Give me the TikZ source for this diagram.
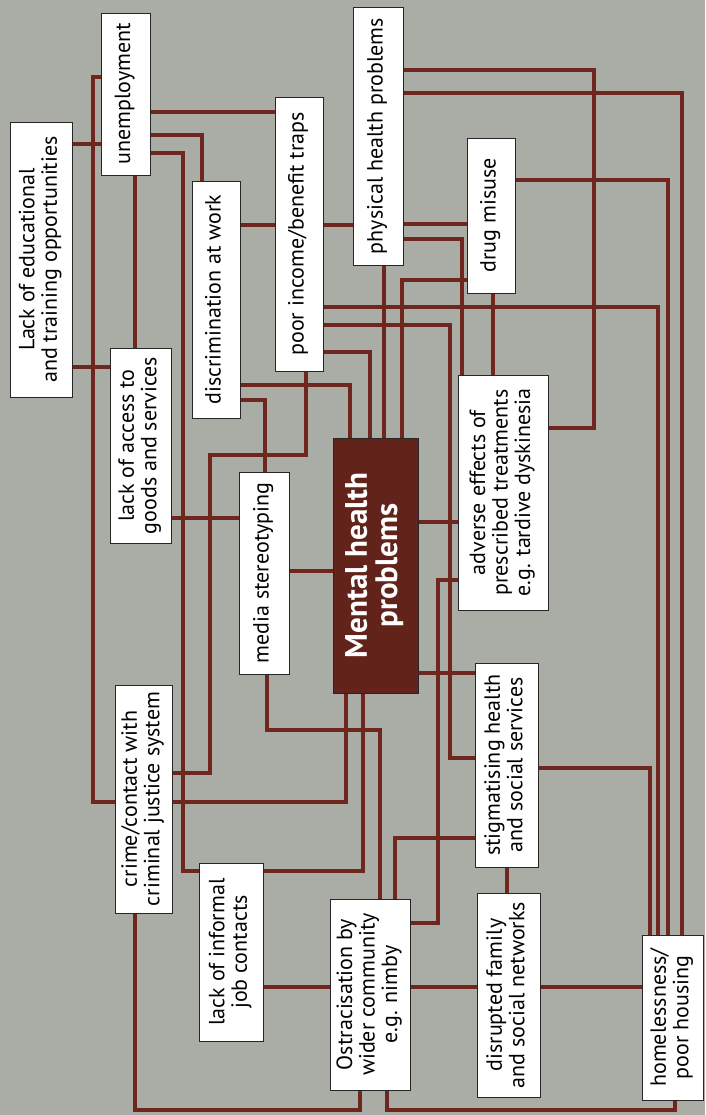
\documentclass[tikz,border=0pt]{standalone}
\usepackage{fontspec}
\setmainfont{PT Sans}
\usepackage{graphicx}
\usetikzlibrary{backgrounds}
\definecolor{fondogris}{RGB}{170,173,166}
\definecolor{marron}{RGB}{110,38,30}
\definecolor{marronmh}{RGB}{98,35,27}
\newcommand\vtext[1]{\rotatebox{90}{\begin{tabular}{@{}c@{}}#1\end{tabular}}}
\tikzset{
  caja/.style={draw=black!85,fill=white,line width=0.9pt,inner sep=0pt,
    font=\fontsize{22}{22.5}\selectfont},
  tam/.style 2 args={minimum width=#1pt,minimum height=#2pt},
  enlace/.style={draw=marron,line width=4pt},
}
\begin{document}
\begin{tikzpicture}[x=1pt,y=-1pt]
   %cajas
   \node[caja,tam={62}{275}] (edu) at (41,259.5) {\vtext{Lack of educational\\and training opportunities}};
   \node[caja,tam={49}{162}] (unemp) at (125.5,94) {\vtext{unemployment}};
   \node[caja,tam={48}{274}] (poorinc) at (299,234) {\vtext{poor income/benefit traps}};
   \node[caja,tam={50}{258}] (phys) at (378,136) {\vtext{physical health problems}};
   \node[caja,tam={48}{155}] (drug) at (491,215.5) {\vtext{drug misuse}};
   \node[caja,tam={48}{237}] (discr) at (216,299.5) {\vtext{discrimination at work}};
   \node[caja,tam={61}{195}] (access) at (140.5,445.5) {\vtext{lack of access to\\goods and services}};
   \node[caja,tam={50}{202}] (media) at (264,573) {\vtext{media stereotyping}};
   \node[caja,fill=marronmh,text=white,font=\fontsize{31}{29}\selectfont\bfseries,tam={85}{255}] (mhp) at (375.5,565.5) {\vtext{Mental health\\problems}};
   \node[caja,tam={90}{235}] (adverse) at (503,492.5) {\vtext{adverse effects of\\prescribed treatments\\e.g. tardive dyskinesia}};
   \node[caja,tam={63}{204}] (stig) at (506.5,765) {\vtext{stigmatising health\\and social services}};
   \node[caja,tam={57}{228}] (crime) at (143.5,799) {\vtext{crime/contact with\\criminal justice system}};
   \node[caja,tam={64}{178}] (jobs) at (231,952) {\vtext{lack of informal\\job contacts}};
   \node[caja,tam={80}{191}] (ostra) at (370,994.5) {\vtext{Ostracisation by\\wider community\\e.g. nimby}};
   \node[caja,tam={63}{204}] (family) at (508.5,995) {\vtext{disrupted family\\and social networks}};
   \node[caja,tam={61}{165}] (homeless) at (672.5,1017.5) {\vtext{homelessness/\\poor housing}};
   \begin{scope}[on background layer]
   %fondo
   \fill[fondogris] (0,0) rectangle (705,1115);
   %enlaces
   \draw[enlace] (edu.east |- 0,144) -- (unemp.west |- 0,144);
   \draw[enlace] (edu.east |- 0,367) -- (access.west |- 0,367);
   \draw[enlace] (unemp.south -| 135,0) -- (access.north -| 135,0);
   \draw[enlace] (unemp.east |- 0,112) -- (poorinc.west |- 0,112);
   \draw[enlace] (unemp.east |- 0,135) -| (discr.north -| 202,0);
   \draw[enlace] (unemp.east |- 0,153) -| (183,871) -- (jobs.west |- 0,871);
   \draw[enlace] (unemp.west |- 0,77) -| (93,802) -- (crime.west |- 0,802);
   \draw[enlace] (discr.east |- 0,225) -- (poorinc.west |- 0,225);
   \draw[enlace] (poorinc.east |- 0,225) -- (phys.west |- 0,225);
   \draw[enlace] (phys.east |- 0,224) -- (drug.west |- 0,224);
   \draw[enlace] (discr.east |- 0,385) -| (mhp.north -| 350,0);
   \draw[enlace] (discr.east |- 0,400) -| (media.north -| 265,0);
   \draw[enlace] (access.east |- 0,518) -- (media.west |- 0,518);
   \draw[enlace] (poorinc.south -| 306,0) |- (210,455) |- (crime.east |- 0,773);
   \draw[enlace] (poorinc.east |- 0,352) -| (mhp.north -| 370,0);
   \draw[enlace] (poorinc.east |- 0,325) -| (450,758) -- (stig.west |- 0,758);
   \draw[enlace] (poorinc.east |- 0,307) -| (homeless.north -| 658,0);
   \draw[enlace] (phys.south -| 384,0) -- (mhp.north -| 384,0);
   \draw[enlace] (phys.east |- 0,239) -| (adverse.north -| 462,0);
   \draw[enlace] (phys.east |- 0,70) -| (594,428) -- (adverse.east |- 0,428);
   \draw[enlace] (phys.east |- 0,93) -| (homeless.north -| 682,0);
   \draw[enlace] (drug.west |- 0,280) -| (mhp.north -| 402,0);
   \draw[enlace] (drug.south -| 493,0) -- (adverse.north -| 493,0);
   \draw[enlace] (drug.east |- 0,180) -| (homeless.north -| 668,0);
   \draw[enlace] (media.east |- 0,571) -- (mhp.west |- 0,571);
   \draw[enlace] (media.south -| 267,0) |- (380,730) -- (ostra.north -| 380,0);
   \draw[enlace] (mhp.east |- 0,522) -- (adverse.west |- 0,522);
   \draw[enlace] (mhp.east |- 0,673) -- (stig.west |- 0,673);
   \draw[enlace] (mhp.south -| 346,0) |- (crime.east |- 0,802);
   \draw[enlace] (mhp.south -| 363,0) |- (jobs.east |- 0,871);
   \draw[enlace] (adverse.west |- 0,580) -| (438,923) -- (ostra.east |- 0,923);
   \draw[enlace] (ostra.north -| 395,0) |- (stig.west |- 0,838);
   \draw[enlace] (stig.south -| 507,0) -- (family.north -| 507,0);
   \draw[enlace] (stig.east |- 0,768) -| (homeless.north -| 650,0);
   \draw[enlace] (jobs.east |- 0,987) -- (ostra.west |- 0,987);
   \draw[enlace] (ostra.east |- 0,987) -- (family.west |- 0,987);
   \draw[enlace] (family.east |- 0,987) -- (homeless.west |- 0,987);
   \draw[enlace] (crime.south -| 135,0) |- (360,1110) -- (ostra.south -| 360,0);
   \draw[enlace] (ostra.south -| 387,0) |- (675,1110) -- (homeless.south -| 675,0);
   \end{scope}
\end{tikzpicture}
\end{document}
